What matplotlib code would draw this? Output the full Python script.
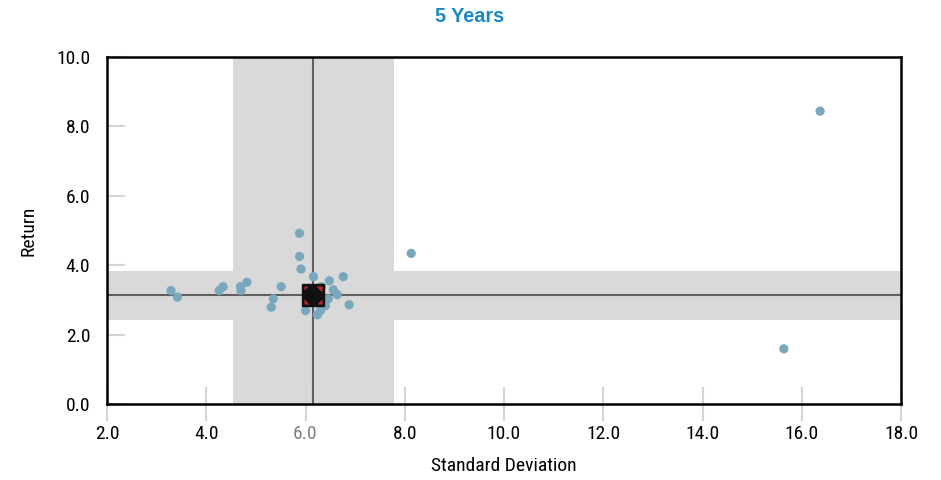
import matplotlib
matplotlib.use("Agg")
import matplotlib.pyplot as plt
from matplotlib.path import Path
from matplotlib import font_manager

# Peer universe: 5-year standard deviation vs. return
std_dev = [3.29, 3.42, 4.26, 4.34, 4.69, 4.70, 4.82, 5.51, 5.35, 5.31,
           5.88, 5.88, 5.91, 6.16, 6.00, 6.24, 6.48, 6.76, 6.56, 6.64,
           6.88, 6.32, 6.40, 6.46, 6.30, 8.13, 15.64, 16.37]
returns = [3.27, 3.08, 3.27, 3.38, 3.38, 3.27, 3.51, 3.38, 3.03, 2.79,
           4.92, 4.25, 3.89, 3.67, 2.69, 2.57, 3.55, 3.67, 3.29, 3.15,
           2.86, 3.38, 2.83, 3.03, 2.69, 4.34, 1.59, 8.44]

# Highlighted fund and the interquartile ranges of the universe
fund_std = 6.15
fund_ret = 3.15
std_range = (4.53, 7.78)
ret_range = (2.43, 3.82)

x_ticks = [2.0, 4.0, 6.0, 8.0, 10.0, 12.0, 14.0, 16.0, 18.0]
y_ticks = [0.0, 2.0, 4.0, 6.0, 8.0, 10.0]

names = {f.name for f in font_manager.fontManager.ttflist}
tick_font = next((n for n in ("Roboto Condensed", "Pragati Narrow", "Archivo Narrow",
                              "PT Sans Narrow", "Liberation Sans") if n in names), "DejaVu Sans")

fig = plt.figure(figsize=(9.41, 4.8), dpi=100)
ax = fig.add_axes([107 / 941, 1 - 404 / 480, (901 - 107) / 941, (404 - 57) / 480])

band = "#d9d9d9"
ax.axvspan(*std_range, color=band, lw=0, zorder=0)
ax.axhspan(*ret_range, color=band, lw=0, zorder=0)
ax.axvline(fund_std, color="#5f5f5f", lw=1.5, zorder=1)
ax.axhline(fund_ret, color="#5f5f5f", lw=1.5, zorder=1)

ax.scatter(std_dev, returns, s=44, color="#79a7bd", edgecolors="none", zorder=2)

# Fund marker: dark square with red corner triangles
tri = [(0.35, 1), (1, 1), (1, 0.35), (0.35, 1),
       (-1, 0.55), (-1, 1), (-0.55, 1), (-1, 0.55),
       (-1, -0.4), (-1, -1), (-0.4, -1), (-1, -0.4),
       (0.4, -1), (1, -1), (1, -0.4), (0.4, -1)]
codes = [Path.MOVETO, Path.LINETO, Path.LINETO, Path.CLOSEPOLY] * 4
corner_path = Path(tri, codes)
ax.plot([fund_std], [fund_ret], marker="s", ms=16, color="#111111",
        mec="#111111", ls="none", zorder=4)
ax.plot([fund_std], [fund_ret], marker=corner_path, ms=13.5, color="#c0282d",
        mec="none", ls="none", zorder=5)
ax.plot([fund_std], [fund_ret], marker="+", ms=16, mew=1.6, color="#111111",
        ls="none", zorder=6)

ax.set_xlim(2, 18)
ax.set_ylim(0, 10)
ax.set_xticks(x_ticks)
ax.set_yticks(y_ticks)
ax.set_xticklabels([f"{v:.1f}" for v in x_ticks], fontfamily=tick_font, fontsize=14)
ax.set_yticklabels([f"{v:.1f}" for v in y_ticks], fontfamily=tick_font, fontsize=14)
for lbl, v in zip(ax.get_xticklabels(), x_ticks):
    lbl.set_color("#7f7f7f" if v == 6.0 else "black")

ax.tick_params(axis="x", direction="inout", length=24, width=1.5, color="#d4d4d4", pad=3)
ax.tick_params(axis="y", direction="in", length=13, width=1.5, color="#d4d4d4", pad=12)

for s in ax.spines.values():
    s.set_linewidth(1.8)
    s.set_color("black")
    s.set_zorder(7)

ax.set_xlabel("Standard Deviation", fontfamily=tick_font, fontsize=14, labelpad=10)
ax.set_ylabel("Return", fontfamily=tick_font, fontsize=14, labelpad=13.5)
fig.text(470 / 941, 1 - 17 / 480, "5 Years", ha="center", va="center",
         fontfamily="Liberation Sans", fontweight="bold", fontsize=14.3, color="#1a8ac6")

fig.savefig("out.png", dpi=100)
